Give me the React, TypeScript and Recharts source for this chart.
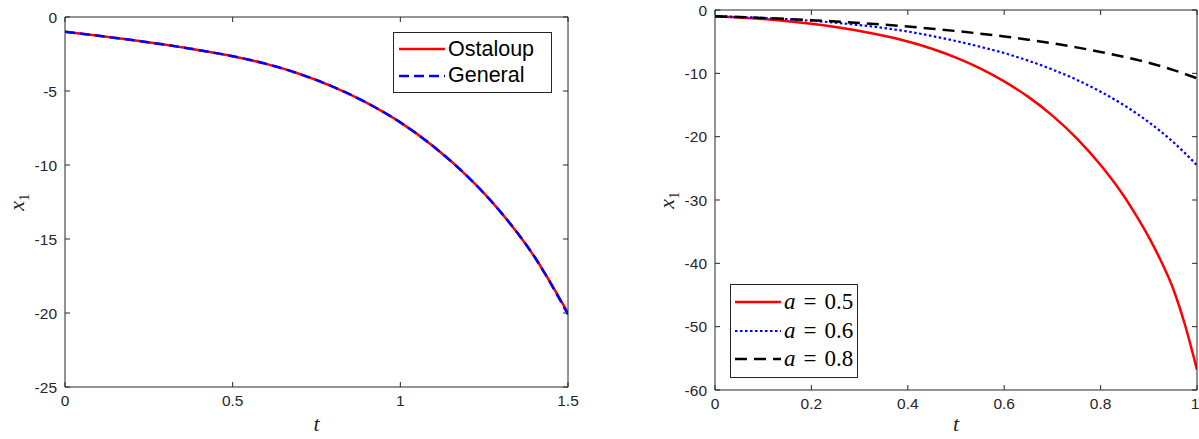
import { LineChart, Line, XAxis, YAxis, Legend } from 'recharts';

// left panel: Ostaloup vs General approximation, t in [0, 1.5]
const leftT = [0, 0.1, 0.2, 0.3, 0.4, 0.5, 0.6, 0.7, 0.8, 0.9, 1.0, 1.1, 1.2, 1.3, 1.4, 1.5];
const ostaloup = [-1.0, -1.27, -1.56, -1.88, -2.24, -2.65, -3.17, -3.85, -4.72, -5.8, -7.12, -8.77, -10.77, -13.2, -16.2, -20.0];
const general = [-1.0, -1.27, -1.56, -1.88, -2.24, -2.65, -3.17, -3.85, -4.72, -5.8, -7.12, -8.77, -10.77, -13.2, -16.2, -20.1];
const leftXTicks = [0, 0.5, 1, 1.5];
const leftYTicks = [0, -5, -10, -15, -20, -25];

// right panel: three fractional orders, t in [0, 1]
const rightT = [0, 0.05, 0.1, 0.15, 0.2, 0.25, 0.3, 0.35, 0.4, 0.45, 0.5, 0.55, 0.6, 0.65, 0.7, 0.75, 0.8, 0.85, 0.875, 0.9, 0.925, 0.95, 0.975, 1.0];
const a05 = [-1.0, -1.18, -1.43, -1.76, -2.18, -2.7, -3.32, -4.07, -4.97, -6.12, -7.52, -9.22, -11.27, -13.72, -16.67, -20.22, -24.47, -29.57, -32.6, -35.87, -39.6, -43.9, -49.7, -56.8];
const a06 = [-1.0, -1.1, -1.25, -1.45, -1.7, -2.0, -2.38, -2.84, -3.4, -4.1, -4.9, -5.8, -6.8, -8.0, -9.4, -11.0, -12.9, -15.1, -16.35, -17.7, -19.2, -20.8, -22.6, -24.5];
const a08 = [-1.0, -1.12, -1.26, -1.42, -1.6, -1.81, -2.05, -2.32, -2.62, -2.95, -3.32, -3.73, -4.18, -4.68, -5.26, -5.9, -6.62, -7.42, -7.86, -8.33, -8.87, -9.45, -10.1, -10.8];
const rightXTicks = [0, 0.2, 0.4, 0.6, 0.8, 1];
const rightYTicks = [0, -10, -20, -30, -40, -50, -60];

const leftData = leftT.map((t, i) => ({ t, ostaloup: ostaloup[i], general: general[i] }));
const rightData = rightT.map((t, i) => ({ t, a05: a05[i], a06: a06[i], a08: a08[i] }));

const leftSeries = [
  { key: 'ostaloup', name: 'Ostaloup', color: '#ff0000', dash: undefined, width: 2.5 },
  { key: 'general', name: 'General', color: '#0000ff', dash: '10 5', width: 2.5 },
];
const rightSeries = [
  { key: 'a05', name: '0.5', color: '#ff0000', dash: undefined, width: 2.5 },
  { key: 'a06', name: '0.6', color: '#0000ff', dash: '2.5 2.5', width: 2.2 },
  { key: 'a08', name: '0.8', color: '#000000', dash: '12 7', width: 2.5 },
];

const AX = '#262626';
const tickFont = { fontSize: 15.5, fill: AX, fontFamily: 'Liberation Sans, Arial, sans-serif' };
const noLabel = () => <g />;

const yLabel = (props: any) => {
  const vb = props.viewBox || {};
  const x = vb.x + vb.width - 41;
  const y = vb.y + vb.height / 2;
  return (
    <text x={x} y={y} transform={`rotate(-90 ${x} ${y})`} textAnchor="middle" fill={AX}
      fontFamily="Liberation Serif, serif" fontSize={22}>
      <tspan fontStyle="italic">x</tspan>
      <tspan fontSize={15} dy={5}>1</tspan>
    </text>
  );
};

const legendBox = (rows: { name: string; color: string; dash?: string; width: number }[], math: boolean) => () => (
  <div style={{ border: `1px solid ${AX}`, background: '#fff', padding: math ? '3px 4px 3px 4px' : '3px 17px 3px 5px' }}>
    {rows.map((r) => (
      <div key={r.name} style={{ display: 'flex', alignItems: 'center', height: math ? 28.5 : 26.5 }}>
        <svg width={46} height={10} style={{ marginRight: 3 }}>
          <line x1={0} y1={5} x2={46} y2={5} stroke={r.color} strokeWidth={r.width} strokeDasharray={r.dash} />
        </svg>
        {math ? (
          <span style={{ fontFamily: 'Liberation Serif, serif', fontSize: 23, color: '#000', whiteSpace: 'nowrap' }}>
            <i>a</i>
            <span style={{ margin: '0 8px' }}>=</span>
            {r.name}
          </span>
        ) : (
          <span style={{ fontFamily: 'Liberation Sans, Arial, sans-serif', fontSize: 21.5, color: '#000' }}>{r.name}</span>
        )}
      </div>
    ))}
  </div>
);

function Panel(props: {
  data: any[];
  series: typeof leftSeries;
  xDomain: number[];
  yDomain: number[];
  xTicks: number[];
  yTicks: number[];
  width: number;
  top: number;
  bottom: number;
  right: number;
  yWidth: number;
  legendPos: { left: number; top: number };
  math: boolean;
}) {
  const { data, series, xDomain, yDomain, xTicks, yTicks, width, top, bottom, right, yWidth, legendPos, math } = props;
  return (
    <LineChart width={width} height={439} data={data} margin={{ top, right, bottom: 0, left: 0 }}>
      <XAxis xAxisId="main" dataKey="t" type="number" domain={xDomain} ticks={xTicks} allowDataOverflow
        tickLine={false} axisLine={{ stroke: AX }} tick={tickFont} height={439 - bottom} tickMargin={2}
        label={{ value: 't', position: 'insideBottom', offset: 8, fill: AX, fontSize: 22, fontStyle: 'italic', fontFamily: 'Liberation Serif, serif' }} />
      <XAxis xAxisId="inner" dataKey="t" type="number" domain={xDomain} ticks={xTicks} allowDataOverflow mirror
        orientation="bottom" tick={noLabel} axisLine={false} tickSize={5} tickLine={{ stroke: AX }} />
      <XAxis xAxisId="top" dataKey="t" type="number" domain={xDomain} ticks={xTicks} allowDataOverflow mirror
        orientation="top" tick={noLabel} axisLine={{ stroke: AX }} tickSize={5} tickLine={{ stroke: AX }} />
      <YAxis yAxisId="main" type="number" domain={yDomain} ticks={yTicks} allowDataOverflow
        tickLine={false} axisLine={{ stroke: AX }} tick={tickFont} width={yWidth} tickMargin={2}
        label={{ content: yLabel }} />
      <YAxis yAxisId="inner" type="number" domain={yDomain} ticks={yTicks} allowDataOverflow mirror
        orientation="left" tick={noLabel} axisLine={false} tickSize={5} tickLine={{ stroke: AX }} />
      <YAxis yAxisId="right" type="number" domain={yDomain} ticks={yTicks} allowDataOverflow mirror
        orientation="right" tick={noLabel} axisLine={{ stroke: AX }} tickSize={5} tickLine={{ stroke: AX }} />
      {series.map((s) => (
        <Line key={s.key} xAxisId="main" yAxisId="main" type="monotone" dataKey={s.key} name={s.name}
          stroke={s.color} strokeWidth={s.width} strokeDasharray={s.dash} dot={false} isAnimationActive={false} />
      ))}
      <Legend layout="horizontal" verticalAlign="middle" align="center"
        wrapperStyle={{ position: 'absolute', left: legendPos.left, top: legendPos.top, width: 'auto' }}
        content={legendBox(series, math)} />
    </LineChart>
  );
}

export default function App() {
  return (
    <div style={{ position: 'absolute', left: 0, top: 0, width: 1199, height: 439, background: '#fff' }}>
      <div style={{ position: 'absolute', left: 0, top: 0 }}>
        <Panel data={leftData} series={leftSeries} xDomain={[0, 1.5]} yDomain={[-25, 0]}
          xTicks={leftXTicks} yTicks={leftYTicks} width={600} top={17} bottom={387} right={32}
          yWidth={65} legendPos={{ left: 393, top: 32 }} math={false} />
      </div>
      <div style={{ position: 'absolute', left: 600, top: 0 }}>
        <Panel data={rightData} series={rightSeries} xDomain={[0, 1]} yDomain={[-60, 0]}
          xTicks={rightXTicks} yTicks={rightYTicks} width={599} top={10} bottom={390} right={2}
          yWidth={115} legendPos={{ left: 130, top: 284 }} math={true} />
      </div>
    </div>
  );
}
